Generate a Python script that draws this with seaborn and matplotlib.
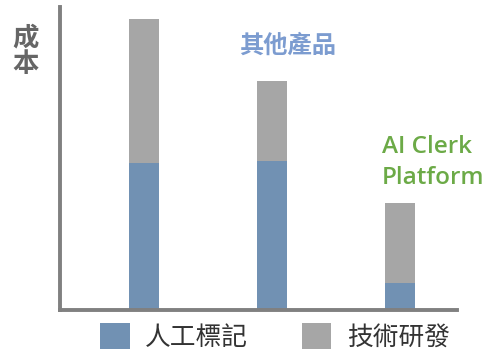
import matplotlib
matplotlib.use("Agg")
import matplotlib.pyplot as plt
import seaborn as sns
import pandas as pd
from matplotlib.patches import Patch

# Data (arbitrary cost units)
products = ["產品一", "產品二", "AI Clerk"]
labeling = [147, 149, 27]      # 人工標記
rnd = [144, 80, 80]            # 技術研發
series_names = ["人工標記", "技術研發"]
ylabel_text = "成本"
note_other = "其他產品"
note_ai_lines = ["AI Clerk", "Platform"]

totals = [a + b for a, b in zip(labeling, rnd)]
df = pd.DataFrame({"product": products, "labeling": labeling, "total": totals})

sns.set_theme(style="white")
plt.rcParams["font.family"] = ["Noto Sans CJK TC", "DejaVu Sans"]

W, H = 490, 356
fig = plt.figure(figsize=(W / 100, H / 100), dpi=100)
ax = fig.add_axes([60 / W, 1 - 310 / H, (457 - 60) / W, (310 - 7) / H])

blue = "#7191B3"
gray = "#A6A6A6"

sns.barplot(data=df, x="product", y="total", color=gray, width=0.234,
            saturation=1, ax=ax, edgecolor="none")
sns.barplot(data=df, x="product", y="labeling", color=blue, width=0.234,
            saturation=1, ax=ax, edgecolor="none")

ax.set_xlim(-0.656, 2.445)
ax.set_ylim(0, 303)
ax.set_xticks([])
ax.set_yticks([])
ax.set_xlabel("")
ax.set_ylabel("")
for s in ["top", "right"]:
    ax.spines[s].set_visible(False)
for s in ["left", "bottom"]:
    ax.spines[s].set_color("#808080")
    ax.spines[s].set_linewidth(2.8)

for i, ch in enumerate(ylabel_text):
    fig.text(26 / W, 1 - (38 + 27 * i) / H, ch, ha="center", va="center",
             fontsize=19, fontweight="bold", color="#666666")
fig.text(288 / W, 1 - 46 / H, note_other, ha="center", va="center",
         fontsize=17.5, fontweight="bold", color="#7C9CD0")
for i, line in enumerate(note_ai_lines):
    fig.text(382 / W, 1 - (147 + 31 * i) / H, line, ha="left", va="center",
             fontsize=17.5, fontweight="semibold", color="#6CAA47",
             family=["Open Sans", "DejaVu Sans"])

handles = [Patch(facecolor=blue, edgecolor="none"),
           Patch(facecolor=gray, edgecolor="none")]
fig.legend(handles, series_names, loc="center left",
           bbox_to_anchor=(100 / W, 1 - 337 / H), ncol=2, frameon=False,
           fontsize=18.5, handlelength=1.15, handleheight=1.15,
           handletextpad=0.6, columnspacing=2.1, labelcolor="#333333",
           borderpad=0, borderaxespad=0)

fig.savefig("out.png", dpi=100)
